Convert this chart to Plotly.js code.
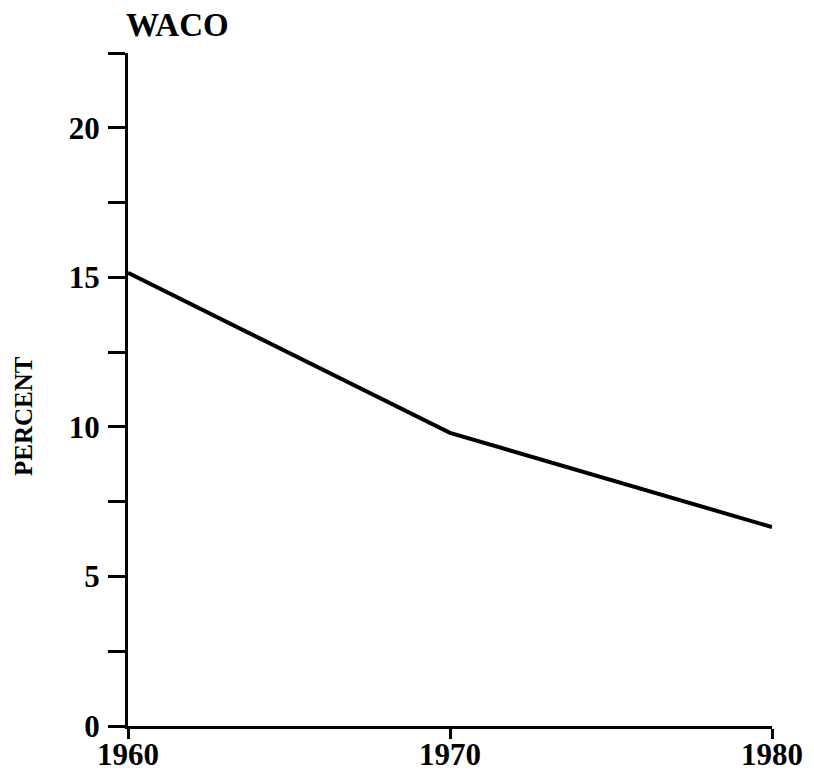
<!DOCTYPE html>
<html>
<head>
<meta charset="utf-8">
<script src="https://cdn.plot.ly/plotly-3.0.1.min.js"></script>
<style>html,body{margin:0;padding:0;background:#fff;}#chart{width:814px;height:777px;}</style>
</head>
<body>
<div id="chart"></div>
<script>
const years = [1960, 1970, 1980];
const percent = [15.15, 9.8, 6.65];
const yTickVals = [0, 2.5, 5, 7.5, 10, 12.5, 15, 17.5, 20, 22.5];
const yTickText = ['0', '', '5', '', '10', '', '15', '', '20', ''];
const xTickVals = [1960, 1970, 1980];
const xTickText = ['1960', '1970', '1980'];
const chartTitle = 'WACO';
const yTitle = 'PERCENT';

const serif = 'Liberation Serif, Times New Roman, serif';

Plotly.newPlot('chart', [{
  x: years, y: percent, type: 'scatter', mode: 'lines',
  line: {color: '#000', width: 4}, cliponaxis: false, hoverinfo: 'skip'
}], {
  width: 814, height: 777,
  margin: {l: 128, r: 42, t: 53, b: 51},
  paper_bgcolor: '#fff', plot_bgcolor: '#fff',
  showlegend: false,
  font: {family: serif, color: '#000'},
  title: {
    text: '<b>' + chartTitle + '</b>',
    font: {family: serif, size: 33, color: '#000'},
    x: 126/814, xanchor: 'left', xref: 'container',
    y: 1 - 24/777, yanchor: 'middle', yref: 'container'
  },
  xaxis: {
    range: [1960, 1980], showgrid: false, zeroline: false,
    showline: true, linecolor: '#000', linewidth: 3,
    ticks: 'outside', ticklen: 10, tickwidth: 3, tickcolor: '#000',
    ticklabelstandoff: -11,
    tickvals: xTickVals, ticktext: xTickText.map(t => '<b>' + t + '</b>'),
    tickfont: {family: serif, size: 31, color: '#000'}
  },
  yaxis: {
    range: [0, 22.5], showgrid: false, zeroline: false,
    showline: true, linecolor: '#000', linewidth: 3,
    ticks: 'outside', ticklen: 17, tickwidth: 3, tickcolor: '#000',
    ticklabelstandoff: 2,
    tickvals: yTickVals, ticktext: yTickText.map(t => t ? '<b>' + t + '</b>' : ''),
    tickfont: {family: serif, size: 31, color: '#000'}
  },
  annotations: [{
    text: '<b>' + yTitle + '</b>', textangle: -90,
    xref: 'paper', yref: 'paper', xanchor: 'center', yanchor: 'middle',
    x: (23 - 128) / (814 - 128 - 42), y: (726 - 416) / (726 - 53),
    showarrow: false, font: {family: serif, size: 25, color: '#000'}
  }]
}, {staticPlot: true});
</script>
</body>
</html>
